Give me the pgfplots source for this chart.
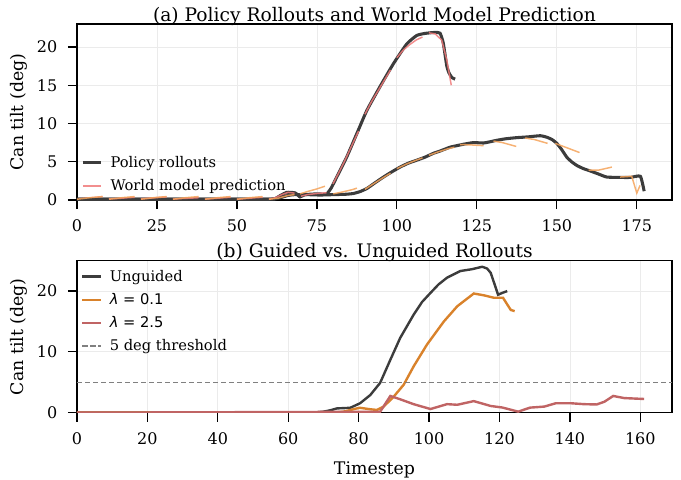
\documentclass[border=0pt]{standalone}
\usepackage{pgfplots}
\pgfplotsset{compat=1.18}
\usepackage{fontspec}
\setmainfont{DejaVu Serif}
\newfontfamily\sansf{DejaVu Sans}

\definecolor{roll}{HTML}{3C3C3C}
\definecolor{wmred}{HTML}{F07A7A}
\definecolor{wmorange}{HTML}{F5A35A}
\definecolor{lamA}{HTML}{D9822B}
\definecolor{lamB}{HTML}{C06464}
\definecolor{gridc}{HTML}{EBEBEB}

\pgfplotsset{
  tiltstyle/.style={
    scale only axis,
    width=446.25pt,
    xmin=0,
    axis line style={black, line width=1.2pt},
    tick style={black, line width=0.9pt},
    major tick length=6.75pt,
    tick align=outside,
    xtick pos=bottom, ytick pos=left,
    grid=major,
    major grid style={gridc, line width=0.6pt},
    tick label style={font=\fontsize{12}{14}\selectfont},
    xticklabel style={yshift=-4.5pt},
    yticklabel style={xshift=-4.5pt},
    label style={font=\fontsize{13}{15}\selectfont},
    xlabel style={yshift=-6pt},
    title style={font=\fontsize{14}{16}\selectfont, yshift=-10.5pt},
    /pgf/number format/assume math mode=true,
    ylabel={Can tilt (deg)},
    legend style={draw=none, fill=none, font=\fontsize{11}{13}\selectfont,
      column sep=4pt},
    legend cell align=left,
    legend image code/.code={\draw[##1] (0cm,0cm) -- (0.48cm,0cm);},
  }
}

\begin{document}
\begin{tikzpicture}

% ---- (a) rollouts vs. world model prediction ----
\begin{axis}[tiltstyle,
  at={(0,0)}, anchor=north west,
  height=132pt,
  xmax=186, ymin=0, ymax=23,
  xtick={0,25,...,175},
  ytick={0,5,10,15,20},
  title={(a) Policy Rollouts and World Model Prediction},
  legend style={at={(0.0,0.01)}, anchor=south west, row sep=3.5pt},
]
\addplot[roll, line width=2.3pt, smooth, tension=0.3] coordinates {
(0,0.12)(10,0.12)(20,0.12)(30,0.1)(40,0.1)(50,0.1)(60,0.1)(62,0.2)(63.5,0.57)
(65.6,1.0)(68.2,0.93)(69.7,0.4)(71.3,0.7)(74.9,0.8)(78,0.8)(79.5,1.6)(81.2,3.0)
(84.3,5.6)(87.5,8.7)(90.6,11.7)(94.7,14.8)(98.9,17.8)(103.1,20.4)(106.2,21.5)
(108.5,21.75)(110.4,21.85)(112,21.9)(113.5,21.8)(114.5,20.5)(115.6,17.5)
(116.3,16.6)(117.2,16.0)(118.2,15.8)};
\addlegendentry{Policy rollouts}
\addplot[wmred, line width=1.1pt, opacity=0.85] coordinates {
(0,0.15)(3,0.25)(6,0.35)(8,0.45)};
\addlegendentry{World model prediction}
\addplot[forget plot, roll, line width=2.3pt, smooth, tension=0.3] coordinates {
(0,0.1)(20,0.1)(40,0.1)(60,0.1)(62,0.15)(64,0.35)(66,0.6)(68,0.7)(72,0.7)
(76,0.65)(80,0.7)(84,0.75)(86.4,0.85)(88.5,1.1)(90.6,1.5)(93,2.2)(95.8,3.0)
(98.5,3.7)(101,4.3)(103.5,4.8)(106.2,5.2)(108.8,5.6)(111.4,6.1)(113.5,6.4)
(116.6,6.9)(118.7,7.1)(121,7.3)(123.9,7.5)(127.1,7.45)(129,7.6)(131.2,7.8)
(134,8.0)(137.5,8.15)(141,8.25)(144.8,8.4)(146.9,8.2)(148.5,7.9)(150,7.4)
(151.5,6.6)(153.1,5.6)(154.6,5.0)(156.3,4.5)(158.3,4.1)(160.4,3.8)(163,3.4)
(165.6,3.0)(169.8,2.95)(173,2.95)(176.1,3.1)(177.3,1.15)};
% red chunks (rollout 1)
\addplot[forget plot, wmred, line width=1.1pt, opacity=0.85] coordinates {(10,0.15)(13,0.2)(16,0.3)(18,0.35)};
\addplot[forget plot, wmred, line width=1.1pt, opacity=0.85] coordinates {(20,0.15)(23,0.25)(26,0.35)(28,0.4)};
\addplot[forget plot, wmred, line width=1.1pt, opacity=0.85] coordinates {(30,0.12)(33,0.2)(36,0.25)(38,0.3)};
\addplot[forget plot, wmred, line width=1.1pt, opacity=0.85] coordinates {(40,0.12)(43,0.2)(46,0.3)(48,0.35)};
\addplot[forget plot, wmred, line width=1.1pt, opacity=0.85] coordinates {(50,0.1)(53,0.2)(56,0.3)(58,0.35)};
\addplot[forget plot, wmred, line width=1.1pt, opacity=0.85] coordinates {(60,0.1)(62,0.3)(64,0.7)(66,1.0)(68,0.9)};
\addplot[forget plot, wmred, line width=1.1pt, opacity=0.85] coordinates {(70,0.5)(72,0.7)(75,0.85)(78,0.95)};
\addplot[forget plot, wmred, line width=1.1pt, opacity=0.85] coordinates {(80,2.1)(82,3.7)(84,5.4)(86,7.2)(88,9.0)};
\addplot[forget plot, wmred, line width=1.1pt, opacity=0.85] coordinates {(90,11.2)(92,12.8)(94,14.2)(96,15.6)(98,17.0)};
\addplot[forget plot, wmred, line width=1.1pt, opacity=0.85] coordinates {(100,18.6)(102,19.6)(104,20.3)(106,20.9)(108,21.3)};
\addplot[forget plot, wmred, line width=1.1pt, opacity=0.85] coordinates {(110,21.85)(112,21.7)(114,20.9)(115.6,18.3)(117,15.0)};
% orange chunks (rollout 2)
\addplot[forget plot, wmorange, line width=1.1pt, opacity=0.85] coordinates {(0,0.1)(4,0.3)(8,0.45)};
\addplot[forget plot, wmorange, line width=1.1pt, opacity=0.85] coordinates {(10,0.1)(14,0.3)(18,0.45)};
\addplot[forget plot, wmorange, line width=1.1pt, opacity=0.85] coordinates {(20,0.1)(24,0.3)(28,0.45)};
\addplot[forget plot, wmorange, line width=1.1pt, opacity=0.85] coordinates {(30,0.1)(34,0.3)(38,0.45)};
\addplot[forget plot, wmorange, line width=1.1pt, opacity=0.85] coordinates {(40,0.1)(44,0.3)(48,0.45)};
\addplot[forget plot, wmorange, line width=1.1pt, opacity=0.85] coordinates {(50,0.1)(54,0.3)(58,0.45)};
\addplot[forget plot, wmorange, line width=1.1pt, opacity=0.85] coordinates {(60,0.1)(63,0.25)(66,0.6)(68,0.7)};
\addplot[forget plot, wmorange, line width=1.1pt, opacity=0.85] coordinates {(69.7,0.8)(72,1.1)(75,1.45)(77.5,1.8)};
\addplot[forget plot, wmorange, line width=1.1pt, opacity=0.85] coordinates {(80.1,0.8)(83,1.05)(86,1.35)(87.5,1.55)};
\addplot[forget plot, wmorange, line width=1.1pt, opacity=0.85] coordinates {(90,1.4)(93,2.2)(96,3.0)(98,3.5)};
\addplot[forget plot, wmorange, line width=1.1pt, opacity=0.85] coordinates {(100,4.1)(103,4.7)(106,5.2)(108,5.5)};
\addplot[forget plot, wmorange, line width=1.1pt, opacity=0.85] coordinates {(110,5.85)(113,6.3)(116,6.7)(118,6.9)};
\addplot[forget plot, wmorange, line width=1.1pt, opacity=0.85] coordinates {(119.8,7.25)(123,7.2)(127.1,7.1)};
\addplot[forget plot, wmorange, line width=1.1pt, opacity=0.85] coordinates {(130.2,7.7)(133,7.5)(137.3,7.0)};
\addplot[forget plot, wmorange, line width=1.1pt, opacity=0.85] coordinates {(140.1,8.1)(143,7.9)(147.1,7.4)};
\addplot[forget plot, wmorange, line width=1.1pt, opacity=0.85] coordinates {(149.5,7.4)(153,6.85)(157.1,6.2)};
\addplot[forget plot, wmorange, line width=1.1pt, opacity=0.85] coordinates {(159.9,3.9)(163,3.9)(167.2,4.3)};
\addplot[forget plot, wmorange, line width=1.1pt, opacity=0.85] coordinates {(169.8,3.0)(173.4,3.1)(175,0.9)(176,1.9)};
\end{axis}

% ---- (b) guided vs. unguided ----
\begin{axis}[tiltstyle,
  at={(0,-177.5pt)}, anchor=north west,
  height=114pt,
  xmax=169, ymin=0, ymax=25,
  xtick={0,20,...,160},
  ytick={0,10,20},
  xlabel={Timestep},
  title={(b) Guided vs. Unguided Rollouts},
  legend style={at={(0.0,0.975)}, anchor=north west, row sep=3.5pt},
]
\addplot[roll, line width=1.8pt] coordinates {
(0,0)(65,0)(68,0.05)(70,0.17)(72,0.4)(73.8,0.7)(77.6,0.8)(80.4,1.55)(83.3,2.9)
(86.1,4.9)(89,8.7)(91.8,12.3)(95.6,16.1)(98,18.2)(100.4,19.7)(102.7,21.1)
(105.1,22.2)(108.9,23.3)(112.2,23.6)(115.1,24.0)(116.5,23.7)(117.5,23.0)
(118.5,21.3)(119.6,19.4)(120.8,19.7)(122.2,20.0)};
\addlegendentry{Unguided}
\addplot[lamA, line width=1.8pt] coordinates {
(0,0)(73,0)(75.7,0.17)(79.5,0.7)(80.4,0.8)(83.3,0.56)(85.2,0.45)(87.1,1.0)
(89.9,2.6)(92.8,4.6)(95.6,7.6)(99.4,11.2)(104.2,15.0)(108,17.5)(112.7,19.6)
(115.6,19.3)(118.4,18.9)(121,18.9)(122.2,17.8)(123.2,16.9)(124.3,16.7)};
\addlegendentry{{\sansf\itshape λ\upshape\ = 0.1}}
\addplot[lamB, line width=1.8pt] coordinates {
(0,0)(86.1,0.15)(89,2.75)(91.8,2.2)(95.6,1.4)(100.4,0.6)(105.1,1.4)(108,1.3)
(112.7,1.9)(117.5,1.1)(120.8,0.85)(125.3,0.17)(128.7,0.83)(132.7,1.0)(136,1.55)
(140.3,1.55)(144,1.4)(147.6,1.35)(149.8,1.8)(152.3,2.75)(155.4,2.4)(161.1,2.25)};
\addlegendentry{{\sansf\itshape λ\upshape\ = 2.5}}
\addplot[gray, line width=0.9pt, dash pattern=on 4pt off 2pt] coordinates {(0,5)(169,5)};
\addlegendentry{5 deg threshold}
\end{axis}

\pgfresetboundingbox
\path[use as bounding box] (-57.75pt,18pt) rectangle (453pt,-341.25pt);
\end{tikzpicture}
\end{document}
